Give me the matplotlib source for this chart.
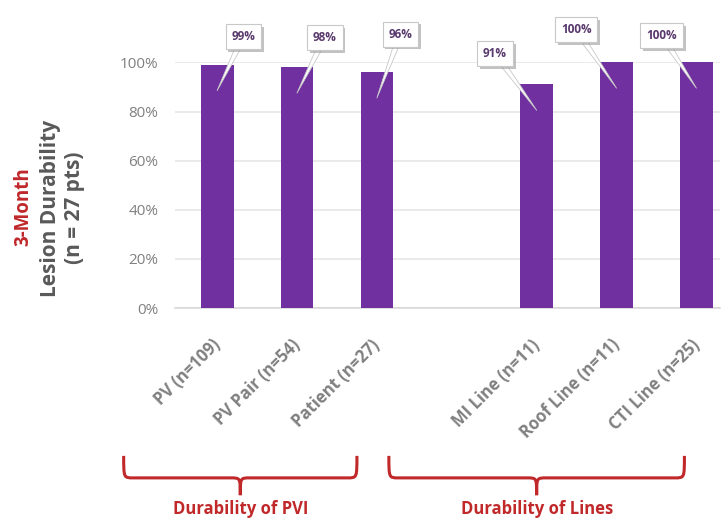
import matplotlib.pyplot as plt
import matplotlib.patheffects as pe
from matplotlib.path import Path
from matplotlib.patches import PathPatch
from matplotlib.transforms import blended_transform_factory, ScaledTranslation

plt.rcParams['font.family'] = ['Open Sans', 'DejaVu Sans']

categories = ['PV (n=109)', 'PV Pair (n=54)', 'Patient (n=27)',
              'MI Line (n=11)', 'Roof Line (n=11)', 'CTI Line (n=25)']
values = [0.99, 0.98, 0.96, 0.91, 1.00, 1.00]
value_labels = ['99%', '98%', '96%', '91%', '100%', '100%']
# slot index of each bar (slot 3 left empty between the two groups)
positions = [0, 1, 2, 4, 5, 6]
group_names = ['Durability of PVI', 'Durability of Lines']
# brace extents in slot units (they follow the slanted labels, not the bars)
group_spans = [(-1.17, 1.75), (2.15, 5.85)]

# callout offsets (points) from pointer tip to label box
offsets = [(19, 39), (20, 40), (17, 46), (-30, 41), (-29, 42), (-25, 38)]

purple = '#7030A0'
red = '#C0282A'
grey = '#808080'

fig = plt.figure(figsize=(7.21, 5.24), dpi=100)
ax = fig.add_axes([0.243, 0.412, 0.755, 0.469])

ax.bar(positions, values, width=0.41, color=purple, zorder=3)
ax.set_xlim(-0.525, 6.29)
ax.set_ylim(0, 1.0)
ax.set_yticks([0, 0.2, 0.4, 0.6, 0.8, 1.0])
ax.set_yticklabels(['0%', '20%', '40%', '60%', '80%', '100%'], color=grey, fontsize=11)
ax.yaxis.grid(True, color='#E6E6E6', linewidth=1.2, zorder=0)
ax.tick_params(axis='y', length=0, pad=12)
ax.tick_params(axis='x', length=0, pad=20)
for s in ['top', 'right', 'left']:
    ax.spines[s].set_visible(False)
ax.spines['bottom'].set_color('#D9D9D9')
ax.spines['bottom'].set_linewidth(1.2)

ax.set_xticks(positions)
ax.set_xticklabels(categories, rotation=45, ha='right', rotation_mode='anchor',
                   color=grey, fontsize=12, fontweight='bold')
shift = ScaledTranslation(-6 / 100, 0, fig.dpi_scale_trans)
for t in ax.get_xticklabels():
    t.set_transform(t.get_transform() + shift)

shadow = [pe.SimplePatchShadow(offset=(2, -2), shadow_rgbFace='#9A9A9A', alpha=0.6), pe.Normal()]
for x, v, lab, off in zip(positions, values, value_labels, offsets):
    ann = ax.annotate(lab, xy=(x, v - 0.105), xytext=off, textcoords='offset points',
                      ha='center', va='center', fontsize=8.5, fontweight='bold', color='#5A3A6E',
                      bbox=dict(boxstyle='square,pad=0.5', fc='white', ec='#C8C8C8', lw=0.8),
                      arrowprops=dict(arrowstyle='wedge,tail_width=0.45,shrink_factor=0.5',
                                      fc='white', ec='#C8C8C8', lw=0.6, shrinkA=0, shrinkB=0),
                      annotation_clip=False, zorder=5)
    ann.get_bbox_patch().set_path_effects(shadow)

# curly braces under the tick labels
trans = blended_transform_factory(ax.transData, fig.transFigure)
for name, (x0, x1) in zip(group_names, group_spans):
    xm = (x0 + x1) / 2
    yt, yh, yb = 0.130, 0.088, 0.055
    q = 0.12
    verts = [(x0, yt), (x0, yh), (x0, yh), (x0 + q, yh),
             (xm - q, yh), (xm, yh), (xm, yh), (xm, yb),
             (xm, yh), (xm, yh), (xm + q, yh),
             (x1 - q, yh), (x1, yh), (x1, yh), (x1, yt)]
    codes = [Path.MOVETO, Path.CURVE4, Path.CURVE4, Path.CURVE4,
             Path.LINETO, Path.CURVE4, Path.CURVE4, Path.CURVE4,
             Path.CURVE4, Path.CURVE4, Path.CURVE4,
             Path.LINETO, Path.CURVE4, Path.CURVE4, Path.CURVE4]
    patch = PathPatch(Path(verts, codes), fc='none', ec=red, lw=2.2,
                      transform=trans, clip_on=False)
    fig.add_artist(patch)
    fig.text(xm, 0.028, name, transform=trans, ha='center', va='center',
             color=red, fontsize=12, fontweight='bold')

fig.text(0.033, 0.606, '3-Month', rotation=90, ha='center', va='center',
         color=red, fontsize=13.5, fontweight='bold')
fig.text(0.070, 0.603, 'Lesion Durability', rotation=90, ha='center', va='center',
         color='#595959', fontsize=15, fontweight='bold')
fig.text(0.103, 0.603, '(n = 27 pts)', rotation=90, ha='center', va='center',
         color='#595959', fontsize=15, fontweight='bold')

plt.savefig('out.png', dpi=100)
